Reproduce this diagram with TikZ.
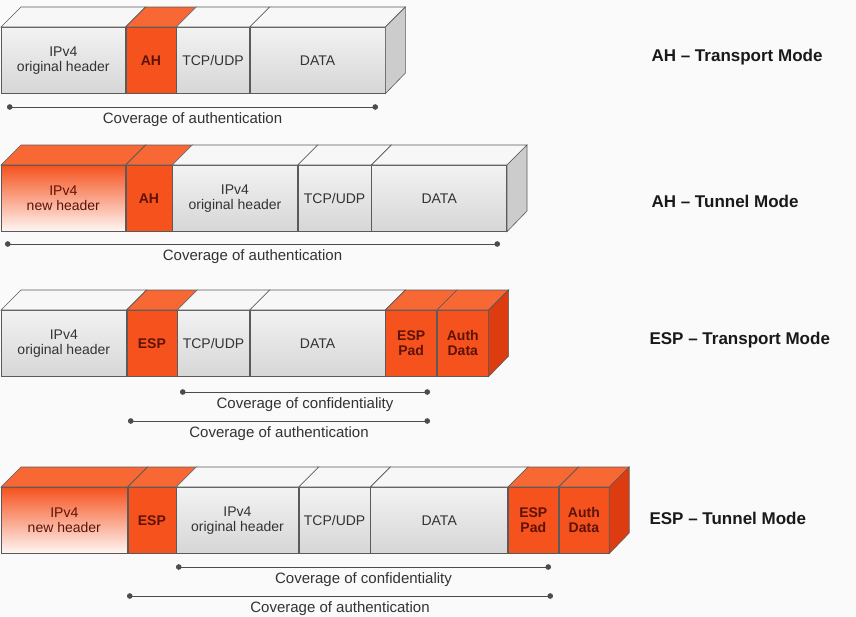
\documentclass[tikz,border=0pt]{standalone}
\usepackage{fontspec}
\setmainfont{Liberation Sans}
\usetikzlibrary{positioning,arrows.meta}

\begin{document}
\begin{tikzpicture}[x=1pt, y=-1pt]
    % Colors
    \definecolor{ipred}{RGB}{245, 82, 30}      % front of red blocks
    \definecolor{ipredtop}{RGB}{247, 104, 52}  % top of red blocks
    \definecolor{ipredside}{RGB}{220, 60, 16}  % side of red blocks
    \definecolor{iptext}{RGB}{95, 18, 8}
    \definecolor{edge}{RGB}{90, 90, 90}

    \tikzset{
        seg/.style={draw=edge, line width=0.6pt, inner sep=0pt, minimum height=66pt, align=center,
                font=\fontsize{14}{15}\selectfont, text=black!80},
        grayseg/.style={seg, top color=black!5, bottom color=black!16},
        redseg/.style={seg, fill=ipred, text=iptext, font=\fontsize{14}{15}\selectfont\bfseries},
        newhdr/.style={seg, top color=ipred, bottom color=ipred!5, text=iptext},
        topg/.style={fill=black!3, draw=edge, line width=0.6pt},
        topr/.style={fill=ipredtop, draw=edge, line width=0.6pt},
        sideg/.style={fill=black!20, draw=edge, line width=0.6pt},
        sider/.style={fill=ipredside, draw=edge, line width=0.6pt},
        cover/.style={draw=black!70, line width=0.8pt, {Circle[length=5.5pt]}-{Circle[length=5.5pt]}},
        covlabel/.style={below=2pt, font=\fontsize{15}{16}\selectfont, text=black!80},
        mode/.style={anchor=west, font=\fontsize{17}{18}\selectfont\bfseries, text=black!90}
    }

    % Background
    \fill[black!2, use as bounding box] (0,0) rectangle (856,616);

    % --- AH TRANSPORT MODE ---
    \node[grayseg, minimum width=124pt, anchor=north west] (a1ip) at (1,27) {IPv4\\original header};
    \node[redseg, minimum width=50pt, right=0pt of a1ip] (a1ah) {AH};
    \node[grayseg, minimum width=73pt, right=0pt of a1ah] (a1tcp) {TCP/UDP};
    \node[grayseg, minimum width=135pt, right=0pt of a1tcp] (a1data) {DATA};

    \foreach \n/\s in {a1ip/topg, a1ah/topr, a1tcp/topg, a1data/topg} {
            \draw[\s] (\n.north west) -- ++(20,-20) -- ([shift={(20,-20)}]\n.north east) -- (\n.north east) -- cycle;
        }
    \draw[sideg] (a1data.north east) -- ++(20,-20) -- ++(0,66) -- (a1data.south east) -- cycle;

    \coordinate (a1l) at (7,107);
    \coordinate (a1r) at (378,107);
    \draw[cover] (a1l) -- (a1r) node[midway, covlabel] (a1cov) {Coverage of authentication};

    \node[mode] (a1mode) at (648,57) {AH -- Transport Mode};

    % --- AH TUNNEL MODE ---
    \node[newhdr, minimum width=124pt, anchor=north west] (a2new) at (1,165) {IPv4\\new header};
    \node[redseg, minimum width=46pt, right=0pt of a2new] (a2ah) {AH};
    \node[grayseg, minimum width=125pt, right=0pt of a2ah] (a2ip) {IPv4\\original header};
    \node[grayseg, minimum width=73pt, right=0pt of a2ip] (a2tcp) {TCP/UDP};
    \node[grayseg, minimum width=135pt, right=0pt of a2tcp] (a2data) {DATA};

    \foreach \n/\s in {a2new/topr, a2ah/topr, a2ip/topg, a2tcp/topg, a2data/topg} {
            \draw[\s] (\n.north west) -- ++(20,-20) -- ([shift={(20,-20)}]\n.north east) -- (\n.north east) -- cycle;
        }
    \draw[sideg] (a2data.north east) -- ++(20,-20) -- ++(0,66) -- (a2data.south east) -- cycle;

    \coordinate (a2l) at (5,244);
    \coordinate (a2r) at (500,244);
    \draw[cover] (a2l) -- (a2r) node[midway, covlabel] (a2cov) {Coverage of authentication};

    \node[mode] (a2mode) at (648,201) {AH -- Tunnel Mode};

    % --- ESP TRANSPORT MODE ---
    \node[grayseg, minimum width=125pt, anchor=north west] (e1ip) at (1,310) {IPv4\\original header};
    \node[redseg, minimum width=50pt, right=0pt of e1ip] (e1esp) {ESP};
    \node[grayseg, minimum width=72pt, right=0pt of e1esp] (e1tcp) {TCP/UDP};
    \node[grayseg, minimum width=135pt, right=0pt of e1tcp] (e1data) {DATA};
    \node[redseg, minimum width=51pt, right=0pt of e1data] (e1pad) {ESP\\Pad};
    \node[redseg, minimum width=51pt, right=0pt of e1pad] (e1auth) {Auth\\Data};

    \foreach \n/\s in {e1ip/topg, e1esp/topr, e1tcp/topg, e1data/topg, e1pad/topr, e1auth/topr} {
            \draw[\s] (\n.north west) -- ++(20,-20) -- ([shift={(20,-20)}]\n.north east) -- (\n.north east) -- cycle;
        }
    \draw[sider] (e1auth.north east) -- ++(20,-20) -- ++(0,66) -- (e1auth.south east) -- cycle;

    \coordinate (e1cl) at (180,392);
    \coordinate (e1cr) at (430,392);
    \draw[cover] (e1cl) -- (e1cr) node[midway, covlabel] (e1conf) {Coverage of confidentiality};
    \coordinate (e1al) at (128,421);
    \coordinate (e1ar) at (430,421);
    \draw[cover] (e1al) -- (e1ar) node[midway, covlabel] (e1cov) {Coverage of authentication};

    \node[mode] (e1mode) at (646,340) {ESP -- Transport Mode};

    % --- ESP TUNNEL MODE ---
    \node[newhdr, minimum width=126pt, anchor=north west] (e2new) at (1,487) {IPv4\\new header};
    \node[redseg, minimum width=48pt, right=0pt of e2new] (e2esp) {ESP};
    \node[grayseg, minimum width=122pt, right=0pt of e2esp] (e2ip) {IPv4\\original header};
    \node[grayseg, minimum width=71pt, right=0pt of e2ip] (e2tcp) {TCP/UDP};
    \node[grayseg, minimum width=137pt, right=0pt of e2tcp] (e2data) {DATA};
    \node[redseg, minimum width=50pt, right=0pt of e2data] (e2pad) {ESP\\Pad};
    \node[redseg, minimum width=50pt, right=0pt of e2pad] (e2auth) {Auth\\Data};

    \foreach \n/\s in {e2new/topr, e2esp/topr, e2ip/topg, e2tcp/topg, e2data/topg, e2pad/topr, e2auth/topr} {
            \draw[\s] (\n.north west) -- ++(20,-20) -- ([shift={(20,-20)}]\n.north east) -- (\n.north east) -- cycle;
        }
    \draw[sider] (e2auth.north east) -- ++(20,-20) -- ++(0,66) -- (e2auth.south east) -- cycle;

    \coordinate (e2cl) at (176,567);
    \coordinate (e2cr) at (551,567);
    \draw[cover] (e2cl) -- (e2cr) node[midway, covlabel] (e2conf) {Coverage of confidentiality};
    \coordinate (e2al) at (127,596);
    \coordinate (e2ar) at (553,596);
    \draw[cover] (e2al) -- (e2ar) node[midway, covlabel] (e2cov) {Coverage of authentication};

    \node[mode] (e2mode) at (646,518) {ESP -- Tunnel Mode};

\end{tikzpicture}
\end{document}
